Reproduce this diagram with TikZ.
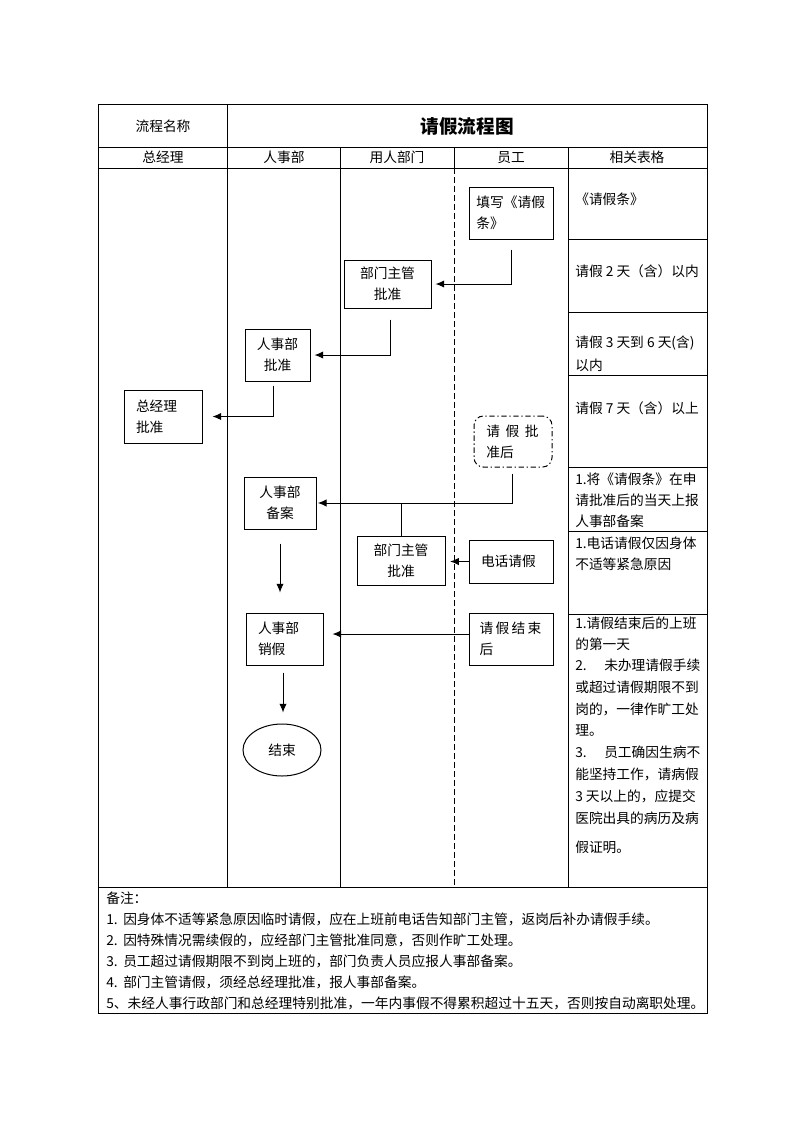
\documentclass[tikz,border=0pt]{standalone}
\usepackage{fontspec}
\setmainfont{Noto Sans CJK SC}
\usetikzlibrary{arrows.meta,shapes.geometric,calc}
\begin{document}
\begin{tikzpicture}[x=0.75pt,y=-0.75pt,
  every node/.style={font=\fontsize{10.3}{15.75}\selectfont},
  line/.style={line width=0.75pt},
  box/.style={draw, line width=0.75pt, inner sep=0pt, align=center},
  lbox/.style={draw, line width=0.75pt, inner ysep=0pt, align=left},
  arr/.style={line width=0.75pt, -{Latex[length=6.5pt,width=5.5pt]}},
  plain/.style={line width=0.75pt},
  rt/.style={anchor=west, inner sep=0pt},
]
\useasboundingbox (0,0) rectangle (793,1122);
% table frame
\draw[line] (98,104) rectangle (707,1013);
\draw[line] (98,147) -- (707,147);
\draw[line] (98,168) -- (707,168);
\draw[line] (98,887) -- (707,887);
\draw[line] (227,104) -- (227,887);
\draw[line] (340,147) -- (340,887);
\draw[line] (454,147) -- (454,168);
\draw[line, dash pattern=on 4.5pt off 2.25pt] (454,168) -- (454,887);
\draw[line] (568,147) -- (568,887);
\foreach \y in {239,312,375,467,531,614} \draw[line] (568,\y) -- (707,\y);
% header
\node (h0) at (163,126) {流程名称};
\node (title) at (467,126) {\fontsize{14}{16}\selectfont\bfseries 请假流程图};
\node (c1) at (163,157.5) {总经理};
\node (c2) at (284,157.5) {人事部};
\node (c3) at (397,157.5) {用人部门};
\node (c4) at (511,157.5) {员工};
\node (c5) at (637,157.5) {相关表格};
% flow boxes
\node[lbox, text width=52pt, inner xsep=5.5pt, minimum height=39pt] (fill) at (511,213) {填写《请假\\条》};
\node[box, minimum width=65.25pt, minimum height=36pt] (bm1) at (387.5,284) {部门主管\\批准};
\node[box, minimum width=48.75pt, minimum height=39pt] (hr1) at (277.5,355) {人事部\\批准};
\node[lbox, text width=40.5pt, inner xsep=9pt, minimum height=39.75pt] (gm) at (163,416.5) {总经理\\批准};
\node[lbox, text width=40pt, inner xsep=9.25pt, minimum height=38.25pt, rounded corners=7pt,
  dash pattern=on 4pt off 2pt on 1pt off 2pt] (after) at (513,441.5) {请\hspace{4.2pt}假\hspace{4.2pt}批\\准后};
\node[box, minimum width=54pt, minimum height=39pt] (hr2) at (280,503) {人事部\\备案};
\node[box, minimum width=66pt, minimum height=36.75pt] (bm2) at (401,560.5) {部门主管\\批准};
\node[lbox, text width=45pt, inner xsep=9pt, minimum height=32.25pt] (phone) at (511,561.5) {电话请假};
\node[lbox, text width=39.75pt, inner xsep=9pt, minimum height=39pt] (hr3) at (284.5,639) {人事部\\销假};
\node[lbox, text width=47pt, inner xsep=8pt, minimum height=39pt] (end) at (511,639) {请\hspace{1.7pt}假\hspace{1.7pt}结\hspace{1.7pt}束\\后};
\node[draw, line width=0.75pt, ellipse, minimum width=58.5pt, minimum height=39pt, inner sep=0pt] (endE) at (282,750) {结束};
% connectors
\draw[arr] ($(fill.south)+(0,10)$) |- ([xshift=3pt]bm1.east);
\draw[arr] ($(bm1.south)+(2.5,11)$) |- ([xshift=3pt]hr1.east);
\draw[arr] ($(hr1.south)+(-4,4)$) |- ([xshift=7.5pt]gm.east);
\draw[arr] ($(after.south)+(-1,6)$) |- ([xshift=1pt]hr2.east);
\coordinate (j) at (bm2.north |- hr2.east);
\draw[plain] (j) -- (bm2.north);
\draw[arr, shorten >=3.5pt] (phone.west) -- (phone.west -| bm2.east);
\draw[arr] ($(hr2.south)+(0,14)$) -- ($(hr3.north -| hr2.south)+(0,-20)$);
\coordinate (ew) at ($(end.west)+(0,-5)$);
\draw[arr, shorten >=6.75pt] (ew) -- (ew -| hr3.east);
\draw[arr] ($(hr3.south)+(-1.5,7)$) -- ($(endE.north -| hr3.south)+(-1.5,-11)$);
% right column
\node[rt] (r1) at (575,199) {《请假条》};
\node[rt] (r2) at (575,271) {请假 2 天（含）以内};
\node[rt] (r3) at (575,343) {请假 3 天到 6 天(含)};
\node[rt] (r3b) at (575,365) {以内};
\node[rt] (r4) at (575,408) {请假 7 天（含）以上};
\node[rt] (r5) at (575,479) {1.将《请假条》在申};
\node[rt] (r5b) at (575,500) {请批准后的当天上报};
\node[rt] (r5c) at (575,521) {人事部备案};
\node[rt] (r6) at (575,543) {1.电话请假仅因身体};
\node[rt] (r6b) at (575,564) {不适等紧急原因};
\node[rt] (r7) at (575,623) {1.请假结束后的上班};
\node[rt] (r7b) at (575,644) {的第一天};
\node[rt] (r7c) at (575,665) {\makebox[21.75pt][l]{2.}未办理请假手续};
\node[rt] (r7d) at (575,687) {或超过请假期限不到};
\node[rt] (r7e) at (575,709) {岗的，一律作旷工处};
\node[rt] (r7f) at (575,730) {理。};
\node[rt] (r7g) at (575,752) {\makebox[21.75pt][l]{3.}员工确因生病不};
\node[rt] (r7h) at (575,774) {能坚持工作，请病假};
\node[rt] (r7i) at (575,796) {3 天以上的，应提交};
\node[rt] (r7j) at (575,818) {医院出具的病历及病};
\node[rt] (r7k) at (575,847) {假证明。};
% notes
\node[rt] (n0) at (106,898) {备注：};
\node[rt] (n1) at (106,919) {\makebox[12.75pt][l]{1.}因身体不适等紧急原因临时请假，应在上班前电话告知部门主管，返岗后补办请假手续。};
\node[rt] (n2) at (106,940) {\makebox[12.75pt][l]{2.}因特殊情况需续假的，应经部门主管批准同意，否则作旷工处理。};
\node[rt] (n3) at (106,961) {\makebox[12.75pt][l]{3.}员工超过请假期限不到岗上班的，部门负责人员应报人事部备案。};
\node[rt] (n4) at (106,982) {\makebox[12.75pt][l]{4.}部门主管请假，须经总经理批准，报人事部备案。};
\node[rt] (n5) at (106,1003) {5、未经人事行政部门和总经理特别批准，一年内事假不得累积超过十五天，否则按自动离职处理。};
\end{tikzpicture}
\end{document}
